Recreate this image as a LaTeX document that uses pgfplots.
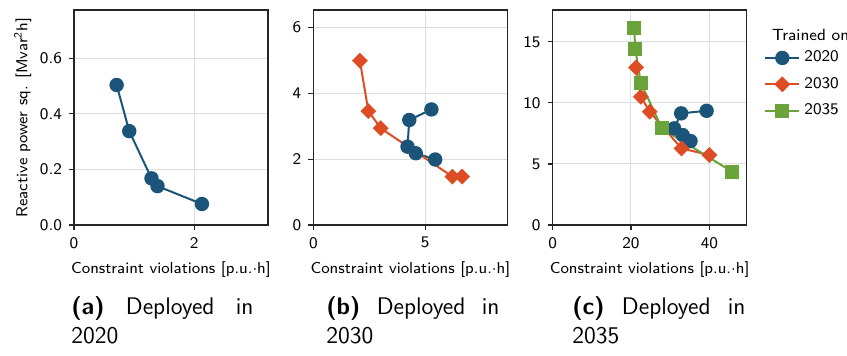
\documentclass[border=0pt]{standalone}
\usepackage{pgfplots}
\pgfplotsset{compat=1.18}
\definecolor{cblue}{HTML}{1B5479}
\definecolor{corange}{HTML}{DE4C24}
\definecolor{cgreen}{HTML}{6AA33A}
\newcommand\lbl{\sffamily\fontsize{8.1}{9.8}\selectfont}
\newcommand\axl{\sffamily\fontsize{7.9}{9.5}\selectfont}
\newcommand\capfont{\sffamily\fontsize{12}{14.5}\selectfont}
\pgfplotsset{
 panel/.style={
  scale only axis, width=97pt, height=107.5pt, anchor=north west,
  axis line style={line width=0.7pt, color=black!85},
  grid=major, major grid style={color=black!13, line width=0.5pt},
  tick align=outside, tick pos=left, major tick length=2.5pt,
  tick style={black!85, line width=0.6pt},
  tick label style={font=\lbl},
  label style={font=\axl},
  /pgf/number format/assume math mode=true,
  xlabel={Constraint violations [p.u.{$\cdot$}h]},
  xmin=0, ymin=0,
 },
 s20/.style={cblue, line width=1pt, mark=*, mark size=3.1pt, mark options={solid}},
 s30/.style={corange, line width=1pt, mark=square*, mark size=2.3pt, mark options={solid, rotate=45}},
 s35/.style={cgreen, line width=1pt, mark=square*, mark size=3pt, mark options={solid}},
}
\begin{document}
\begin{tikzpicture}
% panel a
\begin{axis}[panel, at={(37pt,-5pt)}, xmax=3.23, ymax=0.774,
  xtick={0,2}, ytick={0,0.2,0.4,0.6},
  yticklabel style={/pgf/number format/fixed, /pgf/number format/fixed zerofill, /pgf/number format/precision=1},
  ylabel={Reactive power sq. [Mvar\textsuperscript{2}h]}, ylabel shift=-2.5pt]
\addplot[s20] coordinates {(0.71,0.504) (0.92,0.338) (1.29,0.168) (1.39,0.140) (2.13,0.0756)};
\end{axis}
% panel b
\begin{axis}[panel, at={(156.7pt,-5pt)}, xmax=8.68, ymax=6.53,
  xtick={0,5}, ytick={0,2,4,6}]
\addplot[s20] coordinates {(5.28,3.51) (4.29,3.19) (4.21,2.38) (4.58,2.18) (5.45,1.99)};
\addplot[s30] coordinates {(2.08,4.99) (2.46,3.46) (3.01,2.94) (6.22,1.47) (6.65,1.47)};
\end{axis}
% panel c
\begin{axis}[panel, at={(276.3pt,-5pt)}, xmax=49.5, ymax=17.6,
  xtick={0,20,40}, ytick={0,5,10,15},
  legend style={at={(1.089,0.83)}, anchor=north west, draw=none, fill=none, inner sep=0pt,
    font=\lbl, row sep=2.2pt, /tikz/every even column/.append style={column sep=2pt}},
  legend cell align=left]
\addplot[s20] coordinates {(39.3,9.35) (32.8,9.14) (31.0,7.91) (33.2,7.36) (35.2,6.87)};
\addlegendentry{2020}
\addplot[s30] coordinates {(21.3,12.9) (22.5,10.5) (24.8,9.27) (32.9,6.27) (40.0,5.73)};
\addlegendentry{2030}
\addplot[s35] coordinates {(20.8,16.1) (21.1,14.4) (22.5,11.65) (27.9,7.91) (45.8,4.36)};
\addlegendentry{2035}
\end{axis}
\node[font=\lbl, anchor=west, inner sep=0pt] at (385.8pt,-17.5pt) {Trained on};
% captions
\node[anchor=north west, inner sep=0pt, text width=91pt, align=justify, font=\capfont] at (35.5pt,-148pt) {\textbf{(a)} Deployed in 2020};
\node[anchor=north west, inner sep=0pt, text width=86.5pt, align=justify, font=\capfont] at (163pt,-148pt) {\textbf{(b)} Deployed in 2030};
\node[anchor=north west, inner sep=0pt, text width=86.5pt, align=justify, font=\capfont] at (286pt,-148pt) {\textbf{(c)} Deployed in 2035};
\pgfresetboundingbox
\path[use as bounding box] (0,0) rectangle (423.5pt,-177.5pt);
\end{tikzpicture}
\end{document}
